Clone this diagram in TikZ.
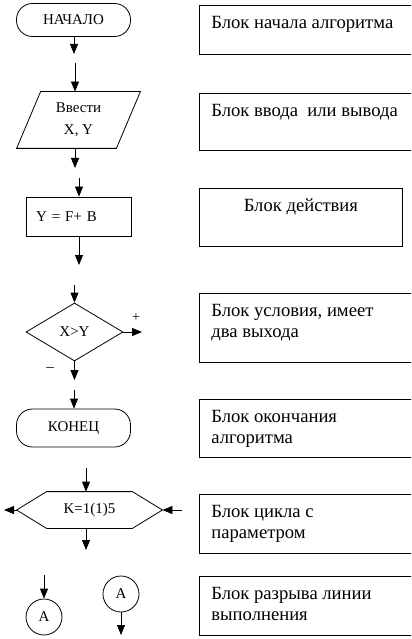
\documentclass[tikz,border=0pt]{standalone}
\usepackage{fontspec}
\setmainfont{Liberation Serif}
\usetikzlibrary{arrows.meta,shapes.geometric,positioning}
\newcommand{\blkfont}{\fontsize{15}{17}\selectfont}
\newcommand{\notefont}{\fontsize{18.7}{21.5}\selectfont}
\newcommand{\notetext}[3]{\parbox[c][#1][t]{#2}{\vspace{8bp}\leftskip=12bp\strut#3}}

\begin{document}
\begin{tikzpicture}[x=1bp,y=-1bp,line width=0.8bp,
term/.style={
rectangle,
draw,
rounded corners=16bp,
minimum width=114bp,
minimum height=33bp,
inner sep=0pt,
font=\blkfont
},
plain/.style={rectangle,inner sep=0pt,align=center,font=\blkfont},
act/.style={rectangle,draw,minimum width=105bp,minimum height=39bp,text width=85bp,inner xsep=10bp,align=left,font=\blkfont},
cond/.style={diamond,draw,minimum width=97bp,minimum height=58bp,inner sep=0pt,font=\blkfont},
conn/.style={circle,draw,minimum size=36bp,inner sep=0pt,font=\blkfont},
note/.style={rectangle,draw,anchor=north west,inner sep=0pt,font=\notefont},
to/.style={-{Triangle[length=10bp,width=8bp]}},
]
\clip (0,0) rectangle (411,639);

% start
\node (start) [term] at (73.5,20) {НАЧАЛО};
\coordinate (s1) at (74,54);
\draw[to] (start.south -| s1) -- (s1);

% input / output
\coordinate (i0) at (75,63);
\node (io) [plain,minimum width=123bp,minimum height=56bp] at (78.5,120) {Ввести\\[5bp]X, Y};
\draw (io.south west) -- ([xshift=24bp]io.north west) -- (io.north east) -- ([xshift=-24bp]io.south east) -- cycle;
\draw[to] (i0) -- (i0 |- io.north);
\coordinate (i1) at (75,168);
\draw[to] (io.south -| i1) -- (i1);

% action
\coordinate (p0) at (79,178);
\node (act) [act] at (78.5,216.5) {Y = F+ B};
\draw[to] (p0) -- (p0 |- act.north);
\coordinate (p1) at (79,265);
\draw[to] (act.south -| p1) -- (p1);

% condition
\coordinate (c0) at (74.5,285);
\node (cond) [cond] at (74.5,332) {X>Y};
\draw[to] (c0) -- (cond.north);
\coordinate (yes) at (142,332);
\draw[to] (cond.east) -- (yes);
\node (plus) [font=\fontsize{14}{16}\selectfont] at (136,318) {+};
\coordinate (no) at (74.5,380);
\draw[to] (cond.south) -- (no);
\node (minus) [font=\blkfont] at (50,370) {–};

% end
\coordinate (e0) at (74,390);
\node (stop) [term,minimum height=38bp] at (73.5,428) {КОНЕЦ};
\draw[to] (e0) -- (e0 |- stop.north);

% loop
\coordinate (l0) at (86,468);
\node (loop) [plain,minimum width=145bp,minimum height=36bp] at (89.5,510) {K=1(1)5};
\draw (loop.west) -- ([xshift=30bp]loop.north west) -- ([xshift=-30bp]loop.north east) -- (loop.east) -- ([xshift=-30bp]loop.south east) -- ([xshift=30bp]loop.south west) -- cycle;
\draw[to] (l0) -- (l0 |- loop.north);
\coordinate (l1) at (4,510);
\draw[to] (loop.west) -- (l1);
\coordinate (l2) at (182,510);
\draw[to] (l2) -- (loop.east);
\coordinate (l3) at (86,550);
\draw[to] (loop.south -| l3) -- (l3);

% connectors
\coordinate (a0) at (44,575);
\node (conA) [conn] at (44,617) {A};
\draw[to] (a0) -- (conA);
\node (conB) [conn] at (121,594) {A};
\coordinate (a1) at (121,635);
\draw[to] (conB) -- (a1);

% notes
\node (n1) [note] at (199,5) {\notetext{49bp}{216bp}{Блок начала алгоритма}};
\node (n2) [note] at (199,93) {\notetext{57bp}{216bp}{Блок ввода\ \ или вывода}};
\node (n3) [note] at (199,188) {\notetext{58bp}{203bp}{\centering Блок действия}};
\node (n4) [note] at (199,293) {\notetext{69bp}{216bp}{Блок условия, имеет\\два выхода}};
\node (n5) [note] at (199,399) {\notetext{58bp}{216bp}{Блок окончания\\алгоритма}};
\node (n6) [note] at (199,494) {\notetext{59bp}{216bp}{Блок цикла с\\параметром}};
\node (n7) [note] at (199,576) {\notetext{59bp}{216bp}{Блок разрыва линии\\выполнения}};
\end{tikzpicture}
\end{document}
